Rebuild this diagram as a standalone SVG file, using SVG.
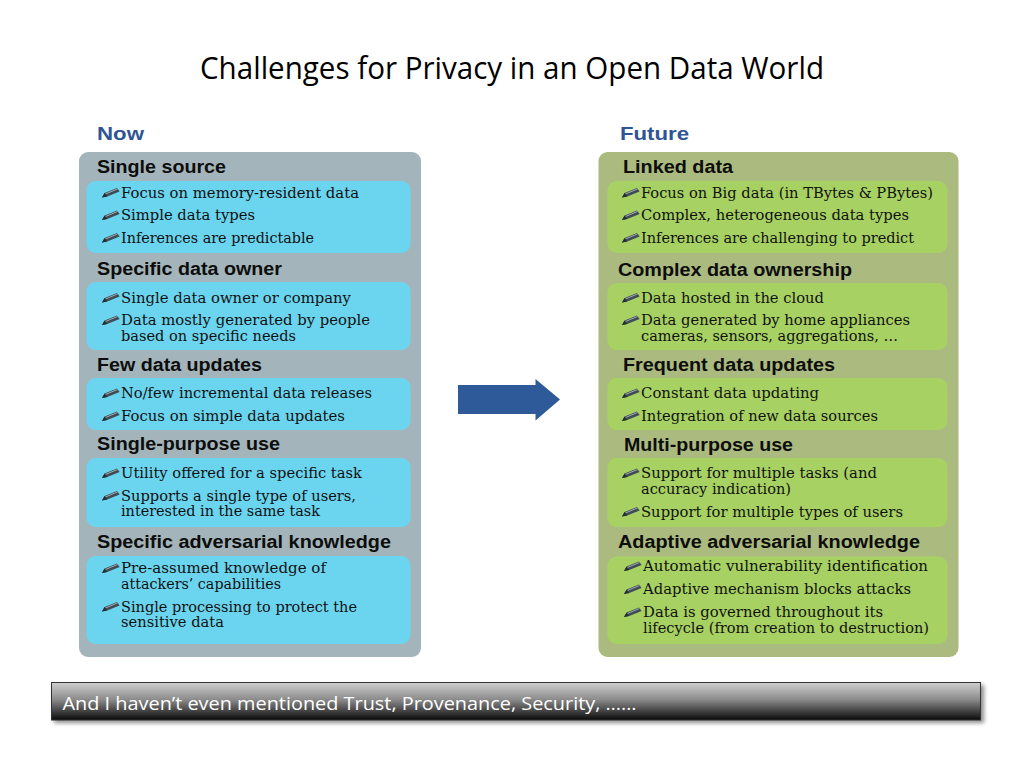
<svg xmlns="http://www.w3.org/2000/svg" xmlns:xlink="http://www.w3.org/1999/xlink" width="1024" height="768" viewBox="0 0 1024 768">
<defs>
<style>
.title{font-family:"Open Sans","Liberation Sans",sans-serif;font-size:31px;fill:#000}
.col{font-family:"Liberation Sans",Arial,sans-serif;font-weight:bold;font-size:17.5px;fill:#2f5496}
.hd{font-family:"Liberation Sans",Arial,sans-serif;font-weight:bold;font-size:17.5px;fill:#0d0d0d}
.it{font-family:"DejaVu Serif","Liberation Serif",serif;font-size:14px;fill:#111}
.foot{font-family:"Open Sans","Liberation Sans",sans-serif;font-size:18px;fill:#fff}
.panelL{fill:#a3b5ba}
.panelR{fill:#abba7e}
.boxL{fill:#6bd5ef}
.boxR{fill:#a7d162}
</style>
<symbol id="pen" viewBox="0 0 18 9" overflow="visible">
<path d="M0,9 L2.6,4.6 L15.0,-0.6 L17.6,2.9 L5.2,8.1 Z" fill="#3f4c56"/>
<path d="M3.4,5.5 L15.4,0.5" stroke="#b9c4ca" stroke-width="0.8" fill="none"/>
<path d="M0,9 L2.6,4.6 L5.2,8.1 Z" fill="#262d33"/>
</symbol>
<linearGradient id="barG" x1="0" y1="0" x2="0" y2="1">
<stop offset="0" stop-color="#cfcfcf"/>
<stop offset="0.45" stop-color="#8c8c8c"/>
<stop offset="1" stop-color="#0a0a0a"/>
</linearGradient>
<filter id="sh" x="-5%" y="-30%" width="110%" height="170%">
<feGaussianBlur stdDeviation="2"/>
</filter>
</defs>
<rect width="1024" height="768" fill="#fff"/>

<g id="title">
<text class="title" x="200" y="79" textLength="624" lengthAdjust="spacingAndGlyphs">Challenges for Privacy in an Open Data World</text>
</g>

<g id="now-panel">
<text class="col" x="97" y="139.5" textLength="47" lengthAdjust="spacingAndGlyphs">Now</text>
<rect class="panelL" x="79" y="152" width="342" height="505" rx="9"/>

<g id="now-single-source">
<text class="hd" x="97" y="173" textLength="129" lengthAdjust="spacingAndGlyphs">Single source</text>
<rect class="boxL" x="86.5" y="181" width="324" height="72" rx="9"/>
<use xlink:href="#pen" x="102" y="188.5" width="18" height="9"/>
<text class="it" x="121" y="197.5" textLength="238" lengthAdjust="spacingAndGlyphs">Focus on memory-resident data</text>
<use xlink:href="#pen" x="102" y="211" width="18" height="9"/>
<text class="it" x="121" y="220" textLength="134" lengthAdjust="spacingAndGlyphs">Simple data types</text>
<use xlink:href="#pen" x="102" y="233.5" width="18" height="9"/>
<text class="it" x="121" y="242.5" textLength="193" lengthAdjust="spacingAndGlyphs">Inferences are predictable</text>
</g>

<g id="now-specific-owner">
<text class="hd" x="97" y="275" textLength="185" lengthAdjust="spacingAndGlyphs">Specific data owner</text>
<rect class="boxL" x="86.5" y="282" width="324" height="68" rx="9"/>
<use xlink:href="#pen" x="102" y="293.5" width="18" height="9"/>
<text class="it" x="121" y="302.5" textLength="230" lengthAdjust="spacingAndGlyphs">Single data owner or company</text>
<use xlink:href="#pen" x="102" y="316" width="18" height="9"/>
<text class="it" x="121" y="325" textLength="249" lengthAdjust="spacingAndGlyphs">Data mostly generated by people</text>
<text class="it" x="121" y="341" textLength="175" lengthAdjust="spacingAndGlyphs">based on specific needs</text>
</g>

<g id="now-few-updates">
<text class="hd" x="97" y="370.5" textLength="165" lengthAdjust="spacingAndGlyphs">Few data updates</text>
<rect class="boxL" x="86.5" y="378" width="324" height="52" rx="9"/>
<use xlink:href="#pen" x="102" y="389" width="18" height="9"/>
<text class="it" x="121" y="398" textLength="251" lengthAdjust="spacingAndGlyphs">No/few incremental data releases</text>
<use xlink:href="#pen" x="102" y="412" width="18" height="9"/>
<text class="it" x="121" y="421" textLength="224" lengthAdjust="spacingAndGlyphs">Focus on simple data updates</text>
</g>

<g id="now-single-purpose">
<text class="hd" x="97" y="450" textLength="183" lengthAdjust="spacingAndGlyphs">Single-purpose use</text>
<rect class="boxL" x="86.5" y="458" width="324" height="69" rx="9"/>
<use xlink:href="#pen" x="102" y="469" width="18" height="9"/>
<text class="it" x="121" y="478" textLength="241" lengthAdjust="spacingAndGlyphs">Utility offered for a specific task</text>
<use xlink:href="#pen" x="102" y="491.5" width="18" height="9"/>
<text class="it" x="121" y="500.5" textLength="235" lengthAdjust="spacingAndGlyphs">Supports a single type of users,</text>
<text class="it" x="121" y="516" textLength="199" lengthAdjust="spacingAndGlyphs">interested in the same task</text>
</g>

<g id="now-specific-adversarial">
<text class="hd" x="97" y="548" textLength="294" lengthAdjust="spacingAndGlyphs">Specific adversarial knowledge</text>
<rect class="boxL" x="86.5" y="556" width="324" height="88" rx="9"/>
<use xlink:href="#pen" x="102" y="564" width="18" height="9"/>
<text class="it" x="121" y="573" textLength="205" lengthAdjust="spacingAndGlyphs">Pre-assumed knowledge of</text>
<text class="it" x="121" y="588.5" textLength="160" lengthAdjust="spacingAndGlyphs">attackers’ capabilities</text>
<use xlink:href="#pen" x="102" y="602.5" width="18" height="9"/>
<text class="it" x="121" y="611.5" textLength="236" lengthAdjust="spacingAndGlyphs">Single processing to protect the</text>
<text class="it" x="121" y="627" textLength="103" lengthAdjust="spacingAndGlyphs">sensitive data</text>
</g>
</g>

<g id="future-panel">
<text class="col" x="620" y="140" textLength="69" lengthAdjust="spacingAndGlyphs">Future</text>
<rect class="panelR" x="598.5" y="152" width="360" height="505" rx="9"/>

<g id="future-linked-data">
<text class="hd" x="623" y="173" textLength="110" lengthAdjust="spacingAndGlyphs">Linked data</text>
<rect class="boxR" x="607.5" y="181" width="340" height="72" rx="9"/>
<use xlink:href="#pen" x="622" y="188.5" width="18" height="9"/>
<text class="it" x="641" y="197.5" textLength="292" lengthAdjust="spacingAndGlyphs">Focus on Big data (in TBytes &amp; PBytes)</text>
<use xlink:href="#pen" x="622" y="211" width="18" height="9"/>
<text class="it" x="641" y="220" textLength="268" lengthAdjust="spacingAndGlyphs">Complex, heterogeneous data types</text>
<use xlink:href="#pen" x="622" y="233.5" width="18" height="9"/>
<text class="it" x="641" y="242.5" textLength="273" lengthAdjust="spacingAndGlyphs">Inferences are challenging to predict</text>
</g>

<g id="future-complex-ownership">
<text class="hd" x="618" y="276" textLength="234" lengthAdjust="spacingAndGlyphs">Complex data ownership</text>
<rect class="boxR" x="607.5" y="283" width="340" height="67" rx="9"/>
<use xlink:href="#pen" x="622" y="293.5" width="18" height="9"/>
<text class="it" x="641" y="302.5" textLength="183" lengthAdjust="spacingAndGlyphs">Data hosted in the cloud</text>
<use xlink:href="#pen" x="622" y="316" width="18" height="9"/>
<text class="it" x="641" y="325" textLength="269" lengthAdjust="spacingAndGlyphs">Data generated by home appliances</text>
<text class="it" x="641" y="341" textLength="257" lengthAdjust="spacingAndGlyphs">cameras, sensors, aggregations, …</text>
</g>

<g id="future-frequent-updates">
<text class="hd" x="623" y="371" textLength="212" lengthAdjust="spacingAndGlyphs">Frequent data updates</text>
<rect class="boxR" x="607.5" y="378" width="340" height="52" rx="9"/>
<use xlink:href="#pen" x="622" y="389" width="18" height="9"/>
<text class="it" x="641" y="398" textLength="178" lengthAdjust="spacingAndGlyphs">Constant data updating</text>
<use xlink:href="#pen" x="622" y="412" width="18" height="9"/>
<text class="it" x="641" y="421" textLength="237" lengthAdjust="spacingAndGlyphs">Integration of new data sources</text>
</g>

<g id="future-multi-purpose">
<text class="hd" x="624" y="451" textLength="169" lengthAdjust="spacingAndGlyphs">Multi-purpose use</text>
<rect class="boxR" x="607.5" y="458" width="340" height="69" rx="9"/>
<use xlink:href="#pen" x="622" y="469" width="18" height="9"/>
<text class="it" x="641" y="478" textLength="236" lengthAdjust="spacingAndGlyphs">Support for multiple tasks (and</text>
<text class="it" x="641" y="493.5" textLength="150" lengthAdjust="spacingAndGlyphs">accuracy indication)</text>
<use xlink:href="#pen" x="622" y="507.5" width="18" height="9"/>
<text class="it" x="641" y="516.5" textLength="262" lengthAdjust="spacingAndGlyphs">Support for multiple types of users</text>
</g>

<g id="future-adaptive-adversarial">
<text class="hd" x="618" y="548" textLength="302" lengthAdjust="spacingAndGlyphs">Adaptive adversarial knowledge</text>
<rect class="boxR" x="607.5" y="556.5" width="340" height="87.5" rx="9"/>
<use xlink:href="#pen" x="624" y="562" width="18" height="9"/>
<text class="it" x="643" y="571" textLength="285" lengthAdjust="spacingAndGlyphs">Automatic vulnerability identification</text>
<use xlink:href="#pen" x="624" y="585" width="18" height="9"/>
<text class="it" x="643" y="594" textLength="268" lengthAdjust="spacingAndGlyphs">Adaptive mechanism blocks attacks</text>
<use xlink:href="#pen" x="624" y="608" width="18" height="9"/>
<text class="it" x="643" y="617" textLength="240" lengthAdjust="spacingAndGlyphs">Data is governed throughout its</text>
<text class="it" x="643" y="633" textLength="286" lengthAdjust="spacingAndGlyphs">lifecycle (from creation to destruction)</text>
</g>
</g>

<g id="connectors">
<polygon points="458,385 535.5,385 535.5,379 560,399.5 535.5,420.5 535.5,414 458,414" fill="#2e5a9a"/>
</g>

<g id="footer">
<rect x="54" y="685" width="930" height="38" fill="#000" opacity="0.45" filter="url(#sh)"/>
<rect x="51.5" y="682.5" width="929" height="37.5" fill="url(#barG)" stroke="#333" stroke-width="1"/>
<text class="foot" x="62.5" y="710" textLength="574" lengthAdjust="spacingAndGlyphs">And I haven’t even mentioned Trust, Provenance, Security, ……</text>
</g>
</svg>
